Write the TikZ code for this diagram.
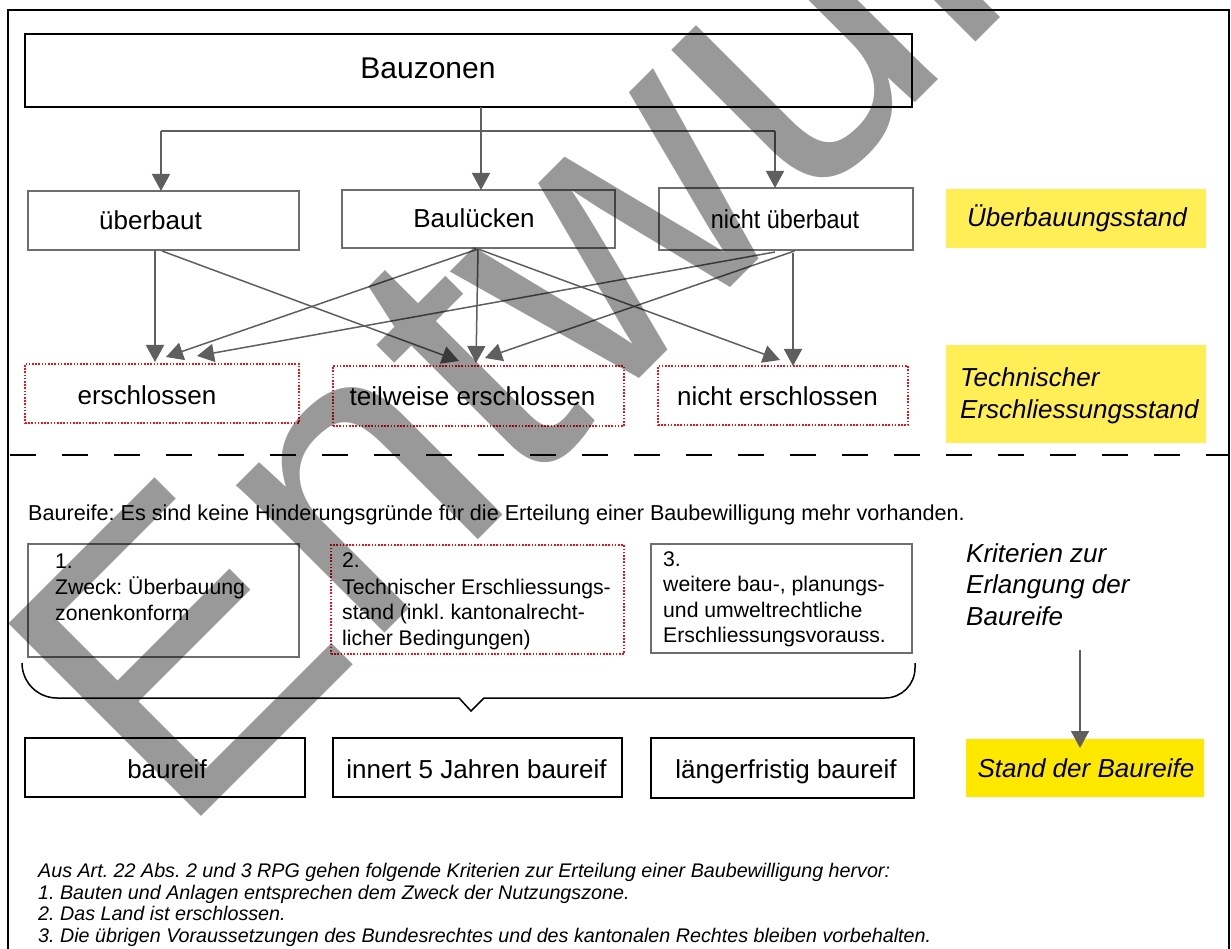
\documentclass[tikz,border=0pt]{standalone}
\usepackage{fontspec}
\setmainfont{Liberation Sans}
\usepackage{graphicx}
\usetikzlibrary{arrows.meta,calc}
\definecolor{linegray}{RGB}{95,95,95}
\definecolor{boxgray}{RGB}{110,110,110}
\definecolor{dotred}{RGB}{230,20,30}
\definecolor{ylight}{RGB}{255,238,85}
\definecolor{ystrong}{RGB}{255,232,0}
\newcommand\setfs[1]{\fontsize{#1}{#1}\selectfont}
\frenchspacing
\tikzset{
  box/.style={draw, rectangle, inner sep=0pt, outer sep=0pt, anchor=north west},
  graybox/.style={box, draw=boxgray, line width=1.5pt},
  blackbox/.style={box, draw=black, line width=2pt},
  redbox/.style={box, draw=dotred, line width=1.5pt, dash pattern=on 1.6pt off 1.6pt},
  ybox/.style={box, draw=none, fill=#1},
  txt/.style={inner sep=0pt, anchor=base},
  ltxt/.style={inner sep=0pt, anchor=base west},
  con/.style={draw=linegray, line width=1.5pt},
  arr/.style={con, -{Triangle[length=17pt,width=18pt]}},
}
\begin{document}
\begin{tikzpicture}[x=1pt,y=-1pt]
\useasboundingbox (0,0) rectangle (1231,949);
\fill[white] (0,0) rectangle (1231,949);
% outer frame
\draw[line width=1.5pt] (8,960) -- (8,10) -- (1229,10) -- (1229,960);

% top box
\node[box, draw=black, line width=2.5pt, minimum width=887pt, minimum height=73pt] (bz) at (25,34) {};
\node[txt] (bzt) at (428,79) {\setfs{30}Bauzonen};

% row 1
\node[graybox, minimum width=271pt, minimum height=59pt] (ub) at (28,191) {};
\node[txt] (ubt) at (150.5,230) {\setfs{26}überbaut};
\node[graybox, minimum width=273pt, minimum height=58pt] (bl) at (342,190) {};
\node[txt] (blt) at (474,228) {\setfs{26}Baulücken};
\node[graybox, minimum width=254pt, minimum height=62pt] (nu) at (659,188) {};
\node[txt] (nut) at (785,229) {\setfs{26}\scalebox{0.9}[1]{nicht überbaut}};
\node[ybox=ylight, minimum width=260pt, minimum height=59pt] (y1) at (946,189) {};
\node[txt] (y1t) at (1077,227) {\setfs{26}\itshape Überbauungsstand};

% connectors top
\coordinate (j) at (481,131);
\coordinate (jl) at (161,131);
\coordinate (jr) at (775,131);
\draw[con] (bz.south -| j) -- (j);
\draw[con] (jl) -- (jr);
\draw[arr] (jl) -- (jl |- ub.north);
\draw[arr] (j) -- (j |- bl.north);
\draw[arr] (jr) -- (jr |- nu.north);

% row 2
\node[redbox, minimum width=274pt, minimum height=59pt] (er) at (25,364) {};
\node[txt] (ert) at (147,404) {\setfs{26}erschlossen};
\node[redbox, minimum width=291pt, minimum height=60pt] (te) at (333,366) {};
\node[txt] (tet) at (472.5,405) {\setfs{26}teilweise erschlossen};
\node[redbox, minimum width=250pt, minimum height=59pt] (ne) at (658,366) {};
\node[txt] (net) at (777.5,405) {\setfs{26}nicht erschlossen};
\node[ybox=ylight, minimum width=260pt, minimum height=98pt] (y2) at (946,345) {};
\node[ltxt] (y2a) at (960,386) {\setfs{26}\itshape Technischer};
\node[ltxt] (y2b) at (960,418) {\setfs{26}\itshape Erschliessungsstand};

% connectors row1 -> row2
\draw[arr, line width=2pt] ($(ub.south)+(-8.5,0)$) -- ($(er.north)+(-7,-2)$);
\draw[arr] ($(ub.south)+(-1.5,1)$) -- ($(te.north)+(-19.5,-5)$);
\draw[arr] ($(bl.south)+(-0.5,1)$) -- ($(er.north)+(4,-7)$);
\draw[arr] ($(bl.south)+(-0.5,1)$) -- ($(te.north)+(-2.5,-3)$);
\draw[arr] ($(bl.south)+(-0.5,1)$) -- ($(ne.north)+(-3,-6)$);
\draw[arr] ($(nu.south)+(-11,2)$) -- ($(er.north)+(35,-8)$);
\draw[arr] ($(nu.south)+(8.5,1)$) -- ($(te.north)+(6.5,-8)$);
\draw[arr, line width=2pt] ($(nu.south)+(7,3)$) -- ($(ne.north)+(10,0)$);

% dashed separator
\draw[line width=1.5pt, dash pattern=on 26pt off 26pt] (10,455) -- (1229,455);

% Baureife line
\node[ltxt] (br) at (28,520) {\setfs{21.6}Baureife: Es sind keine Hinderungsgründe für die Erteilung einer Baubewilligung mehr vorhanden.};

% criteria boxes
\node[graybox, minimum width=271pt, minimum height=113pt] (k1) at (28,544) {};
\node[ltxt] (k1a) at (55,568) {\setfs{21.2}1.};
\node[ltxt] (k1b) at (55,594) {\setfs{21.2}Zweck: Überbauung};
\node[ltxt] (k1c) at (55,620) {\setfs{21.2}zonenkonform};
\node[redbox, minimum width=293pt, minimum height=109pt] (k2) at (331,545) {};
\node[ltxt] (k2a) at (342,567) {\setfs{21.2}2.};
\node[ltxt] (k2b) at (342,594) {\setfs{21.2}Technischer Erschliessungs-};
\node[ltxt] (k2c) at (342,619) {\setfs{21.2}stand (inkl. kantonalrecht-};
\node[ltxt] (k2d) at (342,645) {\setfs{21.2}licher Bedingungen)};
\node[graybox, minimum width=261pt, minimum height=109pt] (k3) at (651,544) {};
\node[ltxt] (k3a) at (663,566) {\setfs{21.2}3.};
\node[ltxt] (k3b) at (663,591.5) {\setfs{21.2}weitere bau-, planungs-};
\node[ltxt] (k3c) at (663,617) {\setfs{21.2}und umweltrechtliche};
\node[ltxt] (k3d) at (663,642.5) {\setfs{21.2}Erschliessungsvorauss.};

\node[ltxt] (kr1) at (966,562.5) {\setfs{26}\itshape Kriterien zur};
\node[ltxt] (kr2) at (966,593.5) {\setfs{26}\itshape Erlangung der};
\node[ltxt] (kr3) at (966,625) {\setfs{26}\itshape Baureife};

% brace
\draw[line width=1.5pt] (22,663) [rounded corners=35pt] -- (22,698) [sharp corners] -- (459,698) -- (471,711) -- (484,698) [rounded corners=30pt] -- (915,698) [sharp corners] -- (915,663);

% bottom boxes
\node[blackbox, minimum width=280pt, minimum height=59pt] (b1) at (25,738) {};
\node[txt] (b1t) at (167,778) {\setfs{26}baureif};
\node[blackbox, minimum width=289pt, minimum height=59pt] (b2) at (333,738) {};
\node[txt] (b2t) at (476.5,778) {\setfs{26}innert 5 Jahren baureif};
\node[blackbox, minimum width=263pt, minimum height=60pt] (b3) at (651,738) {};
\node[txt] (b3t) at (786,778) {\setfs{26}längerfristig baureif};
\node[ybox=ystrong, minimum width=238pt, minimum height=58pt] (y3) at (966,739) {};
\node[txt] (y3t) at (1086,777) {\setfs{26}\itshape Stand der Baureife};

\coordinate (ka) at (1080,650);
\draw[arr] (ka) -- ($(ka |- y3.north)+(0,9)$);

% notes
\node[ltxt] (n1) at (38,877) {\setfs{19.7}\itshape Aus Art. 22 Abs. 2 und 3 RPG gehen folgende Kriterien zur Erteilung einer Baubewilligung hervor:};
\node[ltxt] (n2) at (38,899) {\setfs{19.7}\itshape 1. Bauten und Anlagen entsprechen dem Zweck der Nutzungszone.};
\node[ltxt] (n3) at (38,920.5) {\setfs{19.7}\itshape 2. Das Land ist erschlossen.};
\node[ltxt] (n4) at (38,942) {\setfs{19.7}\itshape 3. Die übrigen Voraussetzungen des Bundesrechtes und des kantonalen Rechtes bleiben vorbehalten.};

% watermark
\node[rotate=45, anchor=base west, inner sep=0pt, text=black, text opacity=0.4] (wm) at (178.4,839.6) {\setfs{396}Entwurf};
\end{tikzpicture}
\end{document}
